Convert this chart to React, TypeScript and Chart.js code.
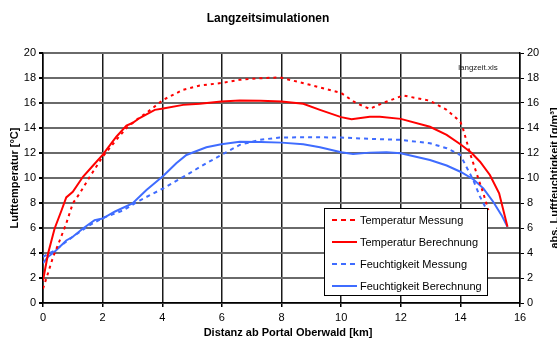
import React, { useEffect, useRef } from "react";
import { Chart, registerables } from "chart.js";

Chart.register(...registerables);

const FONT = "'Liberation Sans', Arial, sans-serif";

const titleText = "Langzeitsimulationen";
const xTitle = "Distanz ab Portal Oberwald [km]";
const yTitle = "Lufttemperatur [°C]";
const y2Title = "abs. Luftfeuchtigkeit [g/m³]";
const noteText = "langzeit.xls";

const seriesNames = [
  "Temperatur Messung",
  "Temperatur Berechnung",
  "Feuchtigkeit Messung",
  "Feuchtigkeit Berechnung",
];

// Temperatur Messung
const tempMessKm = [0, 0.11, 0.34, 0.56, 0.78, 1.0, 1.23, 1.57, 2.0, 2.46, 2.8, 3.13, 3.52, 4.03, 4.7, 5.26, 5.98, 6.6, 7.3, 7.94, 8.95, 10.0, 10.5, 10.96, 11.4, 12.08, 12.98, 13.54, 14.0, 14.1, 14.32, 14.54, 14.77, 14.94];
const tempMessVal = [1.15, 1.95, 3.7, 5.0, 6.36, 7.97, 8.77, 10.1, 11.7, 13.05, 14.0, 14.65, 15.3, 16.25, 17.06, 17.4, 17.6, 17.86, 17.98, 18.05, 17.46, 16.8, 16.0, 15.53, 16.0, 16.6, 16.18, 15.45, 14.5, 13.85, 12.0, 10.4, 8.77, 7.43];

// Temperatur Berechnung
const tempBerKm = [0, 0.17, 0.39, 0.62, 0.78, 1.0, 1.34, 1.68, 2.0, 2.46, 2.8, 3.0, 3.24, 3.75, 4.03, 4.7, 5.26, 5.98, 6.6, 7.3, 8.0, 8.73, 9.29, 10.0, 10.35, 10.96, 11.3, 12.0, 12.98, 13.54, 14.0, 14.38, 14.66, 14.99, 15.3, 15.58];
const tempBerVal = [1.8, 3.96, 5.96, 7.4, 8.45, 8.9, 10.1, 11.0, 11.85, 13.3, 14.2, 14.4, 14.8, 15.45, 15.56, 15.85, 15.94, 16.12, 16.2, 16.18, 16.12, 15.94, 15.45, 14.87, 14.7, 14.9, 14.9, 14.73, 14.1, 13.45, 12.7, 12.0, 11.3, 10.24, 8.77, 6.1];

// Feuchtigkeit Messung
const feuchtMessKm = [0, 0.39, 1.0, 1.57, 2.0, 2.68, 3.24, 4.03, 4.81, 5.48, 5.98, 6.6, 7.27, 7.94, 9.0, 10.0, 10.96, 12.0, 12.98, 13.54, 14.0, 14.2, 14.43, 14.66, 14.86];
const feuchtMessVal = [3.7, 4.2, 5.3, 6.23, 6.8, 7.4, 8.2, 9.17, 10.24, 11.18, 11.84, 12.65, 13.05, 13.24, 13.26, 13.24, 13.13, 13.05, 12.78, 12.38, 11.84, 10.9, 9.84, 8.5, 7.57];

// Feuchtigkeit Berechnung
const feuchtBerKm = [0, 0.17, 0.39, 0.78, 1.0, 1.34, 1.73, 2.0, 2.4, 3.0, 3.47, 4.03, 4.47, 4.81, 5.48, 5.98, 6.6, 7.3, 8.0, 8.73, 9.29, 10.0, 10.4, 10.96, 11.52, 12.0, 12.98, 13.54, 14.0, 14.43, 14.77, 15.1, 15.38, 15.58];
const feuchtBerVal = [3.2, 3.7, 4.1, 5.0, 5.3, 5.96, 6.63, 6.76, 7.3, 7.97, 9.04, 10.16, 11.18, 11.84, 12.46, 12.7, 12.9, 12.88, 12.83, 12.7, 12.46, 12.06, 11.92, 12.03, 12.06, 11.98, 11.44, 11.0, 10.5, 9.9, 9.17, 8.1, 7.03, 6.1];

const RED = "#ff0000";
const BLUE = "#3f6cff";

const pts = (xs: number[], ys: number[]) => xs.map((x, i) => ({ x, y: ys[i] }));

const seriesStyles = [
  { color: RED, dash: [3, 4] },
  { color: RED, dash: [] as number[] },
  { color: BLUE, dash: [4, 4] },
  { color: BLUE, dash: [] as number[] },
];

const overlayPlugin = {
  id: "overlay",
  afterDatasetsDraw(chart: any) {
    const ctx = chart.ctx as CanvasRenderingContext2D;
    const ca = chart.chartArea;
    ctx.save();
    // note text
    ctx.fillStyle = "#222";
    ctx.font = `8px ${FONT}`;
    ctx.textAlign = "center";
    ctx.textBaseline = "middle";
    ctx.fillText(noteText, ca.right - 42, ca.top + 15);

    // legend box
    const bx = ca.right - 196;
    const by = ca.bottom - 95;
    const bw = 163;
    const bh = 87;
    ctx.fillStyle = "#ffffff";
    ctx.fillRect(bx, by, bw, bh);
    ctx.strokeStyle = "#000";
    ctx.lineWidth = 1;
    ctx.strokeRect(bx + 0.5, by + 0.5, bw, bh);
    ctx.font = `11px ${FONT}`;
    ctx.textAlign = "left";
    ctx.textBaseline = "middle";
    seriesNames.forEach((name, i) => {
      const yy = by + 12 + i * 22;
      const st = seriesStyles[i];
      ctx.strokeStyle = st.color;
      ctx.lineWidth = 2;
      ctx.setLineDash(st.dash.length ? [5, 4] : []);
      ctx.beginPath();
      ctx.moveTo(bx + 8, yy);
      ctx.lineTo(bx + 33, yy);
      ctx.stroke();
      ctx.setLineDash([]);
      ctx.fillStyle = "#000";
      ctx.fillText(name, bx + 36, yy + 0.5);
    });
    ctx.restore();
  },
  afterDraw(chart: any) {
    const ctx = chart.ctx as CanvasRenderingContext2D;
    const ca = chart.chartArea;
    ctx.save();
    ctx.fillStyle = "#000";
    ctx.textAlign = "center";
    ctx.textBaseline = "middle";
    ctx.font = `bold 12px ${FONT}`;
    ctx.fillText(titleText, 268, 19);
    ctx.font = `bold 11px ${FONT}`;
    ctx.fillText(xTitle, 288, 333);
    const cy = (ca.top + ca.bottom) / 2;
    ctx.save();
    ctx.translate(15, cy);
    ctx.rotate(-Math.PI / 2);
    ctx.fillText(yTitle, 0, 0);
    ctx.restore();
    ctx.save();
    ctx.translate(555, cy);
    ctx.rotate(-Math.PI / 2);
    ctx.fillText(y2Title, 0, 0);
    ctx.restore();
    ctx.restore();
  },
};

export default function App() {
  const ref = useRef<HTMLCanvasElement>(null);
  useEffect(() => {
    document.body.style.margin = "0";
    const datasets = [
      pts(tempMessKm, tempMessVal),
      pts(tempBerKm, tempBerVal),
      pts(feuchtMessKm, feuchtMessVal),
      pts(feuchtBerKm, feuchtBerVal),
    ].map((data, i) => ({
      label: seriesNames[i],
      data,
      borderColor: seriesStyles[i].color,
      backgroundColor: seriesStyles[i].color,
      borderWidth: 2,
      borderDash: seriesStyles[i].dash,
      pointRadius: 0,
      tension: 0,
      fill: false,
      yAxisID: i < 2 ? "y" : "y2",
    }));
    const tickFont = { family: FONT, size: 11 };
    const chart = new Chart(ref.current!, {
      type: "line",
      data: { datasets },
      plugins: [overlayPlugin],
      options: {
        animation: false,
        responsive: false,
        layout: { padding: { top: 53, left: 0, right: 0, bottom: 0 } },
        plugins: {
          legend: { display: false },
          title: { display: false },
          tooltip: { enabled: false },
        },
        scales: {
          x: {
            type: "linear",
            min: 0,
            max: 16,
            ticks: { stepSize: 2, color: "#000", font: tickFont, padding: 4 },
            grid: { color: "#1a1a1a", lineWidth: 1.5, tickLength: 4, tickColor: "#000" },
            border: { color: "#000", width: 1.5 },
            afterFit: (s: any) => { s.height = 37; },
          },
          y: {
            position: "left",
            min: 0,
            max: 20,
            ticks: { stepSize: 2, color: "#000", font: tickFont, padding: 3 },
            grid: { color: "#6a6a6a", lineWidth: 2, tickLength: 4, tickColor: "#000" },
            border: { color: "#000", width: 1.5 },
            afterFit: (s: any) => { s.width = 43; },
          },
          y2: {
            position: "right",
            min: 0,
            max: 20,
            ticks: { stepSize: 2, color: "#000", font: tickFont, padding: 3 },
            grid: { drawOnChartArea: false, tickLength: 4, color: "#000" },
            border: { color: "#000", width: 1.5 },
            afterFit: (s: any) => { s.width = 37; },
          },
        },
      } as any,
    });
    return () => chart.destroy();
  }, []);
  return <canvas ref={ref} width={557} height={340} style={{ display: "block" }} />;
}
